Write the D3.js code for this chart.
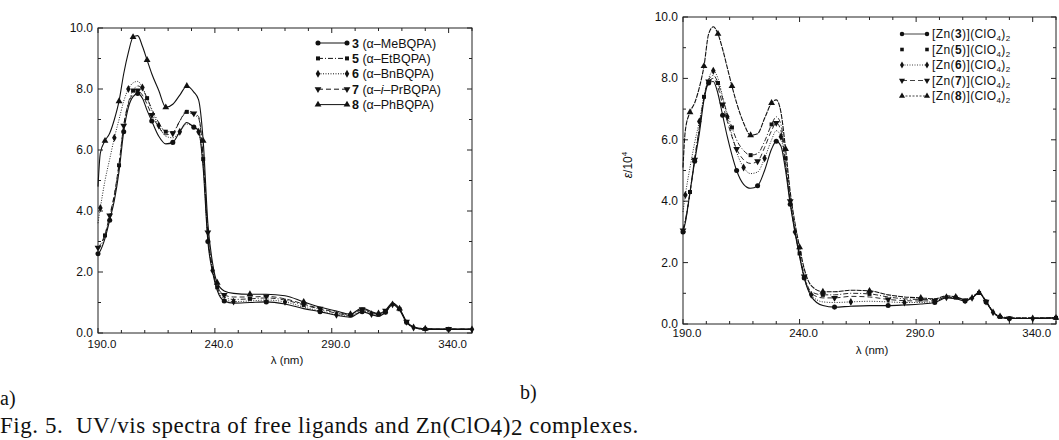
<!DOCTYPE html>
<html>
<head>
<meta charset="utf-8">
<script src="https://cdn.jsdelivr.net/npm/d3@7"></script>
<style>
  body { margin: 0; background: #fff; }
  svg { display: block; }
  text { font-family: "Liberation Sans", Arial, sans-serif; fill: #111; }
  .cap { font-family: "Liberation Serif", "Times New Roman", serif; }
</style>
</head>
<body>
<div id="graph-container"></div>
<script>
// wavelengths (nm) for panel a and b
let wlA = [190,191,193,195,197,199,201,203,205,207,209,211,213,216,219,222,225,228,231,233,235,237,239,241,244,248,255,262,270,278,285,292,298,303,307,310,313,316,319,322,325,330,340,350];
let wlB = [190,191,193,195,197,199,201,203,205,207,209,211,213,216,219,222,225,228,230,232,234,236,238,240,242,245,250,255,262,270,278,285,292,298,303,307,311,314,317,320,323,326,330,340,350];

// panel a: free ligands (epsilon / 10^4)
let a3 = [2.6,2.7,3.1,3.7,4.35,5.3,6.6,7.4,7.75,7.85,7.7,7.3,6.95,6.45,6.2,6.25,6.6,6.9,6.75,6.65,5.4,3.0,2.0,1.4,1.05,0.98,1.0,1.02,0.95,0.8,0.7,0.58,0.52,0.7,0.6,0.55,0.68,0.93,0.75,0.35,0.18,0.12,0.12,0.12];
let a5 = [2.75,2.85,3.2,3.8,4.5,5.5,6.8,7.55,7.95,8.1,8.0,7.7,7.35,6.9,6.6,6.6,6.95,7.25,7.15,7.05,5.7,3.2,2.1,1.5,1.18,1.1,1.12,1.15,1.08,0.92,0.78,0.65,0.58,0.76,0.66,0.6,0.72,0.96,0.78,0.36,0.19,0.13,0.12,0.12];
let a6 = [3.6,4.1,5.0,5.7,6.4,7.0,7.6,8.0,8.2,8.25,8.05,7.7,7.3,6.8,6.45,6.4,6.6,6.85,6.75,6.6,5.5,3.1,2.05,1.45,1.12,1.03,1.05,1.08,1.02,0.85,0.72,0.6,0.55,0.72,0.62,0.57,0.7,0.94,0.76,0.35,0.18,0.12,0.12,0.12];
let a7 = [2.8,2.9,3.25,3.85,4.55,5.55,6.8,7.5,7.85,7.95,7.8,7.5,7.15,6.75,6.5,6.55,6.95,7.3,7.2,7.1,5.8,3.3,2.15,1.55,1.25,1.18,1.18,1.2,1.12,0.95,0.8,0.68,0.6,0.78,0.68,0.62,0.73,0.97,0.79,0.37,0.2,0.14,0.13,0.13];
let a8 = [4.8,5.9,6.3,6.55,7.0,7.6,8.5,9.2,9.7,9.75,9.4,8.95,8.5,7.95,7.4,7.5,7.8,8.1,7.9,7.65,6.3,3.6,2.3,1.65,1.38,1.3,1.27,1.27,1.22,1.02,0.85,0.72,0.62,0.82,0.7,0.64,0.75,0.98,0.8,0.38,0.2,0.14,0.13,0.13];

// panel b: Zn(ClO4)2 complexes
let b3 = [3.0,3.3,4.3,5.3,6.2,7.3,7.85,7.9,7.5,6.8,6.1,5.5,5.0,4.55,4.42,4.5,5.0,5.7,5.95,5.8,5.0,3.9,3.0,2.2,1.5,0.9,0.6,0.55,0.58,0.6,0.6,0.62,0.65,0.7,0.85,0.82,0.75,0.85,1.0,0.72,0.38,0.22,0.18,0.18,0.2];
let b5 = [3.1,3.4,4.3,5.4,6.4,7.4,7.95,8.1,7.85,7.35,6.85,6.4,6.0,5.65,5.5,5.55,5.95,6.5,6.75,6.5,5.4,4.1,3.1,2.3,1.6,1.05,0.95,0.95,1.0,0.98,0.88,0.82,0.8,0.8,0.9,0.86,0.78,0.86,1.01,0.74,0.39,0.23,0.19,0.19,0.2];
let b6 = [3.65,4.2,5.1,5.9,6.6,7.4,8.0,8.25,8.0,7.4,6.75,6.15,5.6,5.1,4.9,4.95,5.4,6.0,6.3,6.1,5.1,3.95,3.0,2.2,1.5,0.95,0.72,0.7,0.72,0.74,0.72,0.7,0.7,0.74,0.87,0.83,0.76,0.85,1.0,0.72,0.38,0.22,0.18,0.18,0.2];
let b7 = [3.05,3.35,4.25,5.35,6.35,7.35,7.9,8.0,7.7,7.15,6.6,6.1,5.7,5.35,5.23,5.3,5.75,6.3,6.55,6.3,5.2,4.0,3.05,2.25,1.55,1.0,0.85,0.85,0.9,0.88,0.8,0.76,0.75,0.76,0.88,0.84,0.77,0.85,1.0,0.73,0.38,0.22,0.18,0.18,0.2];
let b8 = [5.1,6.3,6.9,7.2,7.7,8.4,9.45,9.68,9.45,8.95,8.35,7.75,7.2,6.55,6.15,6.2,6.7,7.2,7.3,6.9,5.7,4.3,3.3,2.5,1.8,1.25,1.05,1.05,1.1,1.08,0.95,0.88,0.85,0.82,0.92,0.88,0.8,0.88,1.02,0.75,0.4,0.25,0.2,0.2,0.2];

let xTicks = [190, 240, 290, 340];
let yTicks = [0, 2, 4, 6, 8, 10];

let ligands = ["3", "5", "6", "7", "8"];
let ligNames = ["α–MeBQPA", "α–EtBQPA", "α–BnBQPA", "α–i-PrBQPA", "α–PhBQPA"];

let svg = d3.select("#graph-container")
  .append("svg")
  .attr("width", 1059)
  .attr("height", 440);

let symbols = [d3.symbolCircle, d3.symbolSquare, d3.symbolDiamond, d3.symbolTriangle, d3.symbolTriangle];
let rotations = [0, 0, 0, 180, 0];
let sizes = [20, 16, 18, 20, 20];

let panels = [
  {wl: wlA, series: [a3, a5, a6, a7, a8], x0: 98, x1: 472, y0: 333, y1: 28,
   dashes: [null, "5,2,1,2", "1,1.5", "5,3", null], labelY: 348, titleX: 287, titleY: 364},
  {wl: wlB, series: [b3, b5, b6, b7, b8], x0: 683, x1: 1056, y0: 324, y1: 17,
   dashes: [null, "5,2,1,2", "1,1.5", "5,3", "5,1"], labelY: 337, titleX: 872, titleY: 354}
];

panels.forEach(function(p, pi) {
  let x = d3.scaleLinear().domain([190, 350]).range([p.x0, p.x1]);
  let y = d3.scaleLinear().domain([0, 10]).range([p.y0, p.y1]);
  let g = svg.append("g");

  // frame
  g.append("rect")
    .attr("x", p.x0).attr("y", p.y1)
    .attr("width", p.x1 - p.x0).attr("height", p.y0 - p.y1)
    .attr("fill", "none").attr("stroke", "#222").attr("stroke-width", 1);

  // minor / major ticks (inward)
  d3.range(190, 351, 10).forEach(function(v) {
    let len = xTicks.indexOf(v) >= 0 ? 5 : 3;
    g.append("line").attr("x1", x(v)).attr("x2", x(v)).attr("y1", p.y0).attr("y2", p.y0 - len).attr("stroke", "#222");
    g.append("line").attr("x1", x(v)).attr("x2", x(v)).attr("y1", p.y1).attr("y2", p.y1 + len).attr("stroke", "#222");
  });
  d3.range(0, 10.1, 1).forEach(function(v) {
    let len = v % 2 == 0 ? 5 : 3;
    g.append("line").attr("y1", y(v)).attr("y2", y(v)).attr("x1", p.x0).attr("x2", p.x0 + len).attr("stroke", "#222");
    g.append("line").attr("y1", y(v)).attr("y2", y(v)).attr("x1", p.x1).attr("x2", p.x1 - len).attr("stroke", "#222");
  });

  g.selectAll(".xl").data(xTicks).enter().append("text")
    .attr("x", function(d) { return x(d) + 4; })
    .attr("y", p.labelY)
    .attr("text-anchor", "middle")
    .attr("font-size", 11.5)
    .text(function(d) { return d3.format(".1f")(d); });

  g.selectAll(".yl").data(yTicks).enter().append("text")
    .attr("x", p.x0 - 5)
    .attr("y", function(d) { return y(d) + 4; })
    .attr("text-anchor", "end")
    .attr("font-size", 12)
    .text(function(d) { return d3.format(".1f")(d); });

  g.append("text").attr("x", p.titleX).attr("y", p.titleY)
    .attr("text-anchor", "middle").attr("font-size", 11.5).text("λ (nm)");

  let line = d3.line()
    .x(function(d) { return x(d[0]); })
    .y(function(d) { return y(d[1]); })
    .curve(d3.curveMonotoneX);

  p.series.forEach(function(s, si) {
    let pts = p.wl.map(function(w, i) { return [w, s[i]]; });
    g.append("path")
      .datum(pts)
      .attr("d", line)
      .attr("fill", "none")
      .attr("stroke", "#111")
      .attr("stroke-width", si == 0 || si == 4 ? 1.1 : 0.9)
      .attr("stroke-dasharray", p.dashes[si]);

    g.selectAll(".m" + si)
      .data(pts.filter(function(d, i) { return (i + si) % 3 == 0; }))
      .enter().append("path")
      .attr("d", d3.symbol().type(symbols[si]).size(sizes[si]))
      .attr("transform", function(d) {
        return "translate(" + x(d[0]) + "," + y(d[1]) + ") rotate(" + rotations[si] + ")";
      })
      .attr("fill", "#111");
  });
});

// y label for panel b
let yl = svg.append("text")
  .attr("transform", "translate(632,165) rotate(-90)")
  .attr("text-anchor", "middle")
  .attr("font-size", 12);
yl.append("tspan").attr("font-style", "italic").text("ε");
yl.append("tspan").text("/10");
yl.append("tspan").attr("font-size", 8).attr("dy", -5).text("4");

// legend a
let legA = svg.append("g");
ligands.forEach(function(l, i) {
  let yy = 43 + i * 15.4;
  legA.append("line").attr("x1", 318).attr("x2", 347).attr("y1", yy).attr("y2", yy)
    .attr("stroke", "#111").attr("stroke-dasharray", panels[0].dashes[i]);
  [318, 347].forEach(function(xx) {
    legA.append("path")
      .attr("d", d3.symbol().type(symbols[i]).size(sizes[i]))
      .attr("transform", "translate(" + xx + "," + yy + ") rotate(" + rotations[i] + ")")
      .attr("fill", "#111");
  });
  let t = legA.append("text").attr("x", 352).attr("y", yy + 4.5).attr("font-size", 12.5);
  t.append("tspan").attr("font-weight", "bold").text(l);
  if (l == "7") {
    t.append("tspan").text("\u00a0(α–");
    t.append("tspan").attr("font-style", "italic").text("i");
    t.append("tspan").text("–PrBQPA)");
  } else {
    t.append("tspan").text("\u00a0(" + ligNames[i] + ")");
  }
});

// legend b
let legB = svg.append("g");
ligands.forEach(function(l, i) {
  let yy = 34 + i * 15.5;
  legB.append("line").attr("x1", 902).attr("x2", 927).attr("y1", yy).attr("y2", yy)
    .attr("stroke", "#111").attr("stroke-width", 0.8)
    .attr("stroke-dasharray", i == 1 ? "0,30" : (i == 4 ? "2,1.5" : panels[1].dashes[i]));
  [902, 927].forEach(function(xx) {
    legB.append("path")
      .attr("d", d3.symbol().type(symbols[i]).size(sizes[i] * 0.8))
      .attr("transform", "translate(" + xx + "," + yy + ") rotate(" + rotations[i] + ")")
      .attr("fill", "#111");
  });
  let t = legB.append("text").attr("x", 932).attr("y", yy + 4).attr("font-size", 12).attr("letter-spacing", 0.4);
  t.append("tspan").text("[Zn(");
  t.append("tspan").attr("font-weight", "bold").text(l);
  t.append("tspan").text(")](ClO");
  t.append("tspan").attr("font-size", 8).attr("dy", 3).text("4");
  t.append("tspan").attr("dy", -3).text(")");
  t.append("tspan").attr("font-size", 8).attr("dy", 3).text("2");
});

// captions
svg.append("text").attr("class", "cap").attr("x", 0).attr("y", 405).attr("font-size", 20).text("a)");
svg.append("text").attr("class", "cap").attr("x", 520).attr("y", 399).attr("font-size", 20).text("b)");
let cap = svg.append("text").attr("class", "cap").attr("x", 0).attr("y", 433)
  .attr("font-size", 23).attr("letter-spacing", 0.55);
cap.append("tspan").text("Fig. 5.\u00a0 UV/vis spectra of free ligands and Zn(ClO");
cap.append("tspan").attr("dy", 2).text("4");
cap.append("tspan").attr("dy", -2).text(")");
cap.append("tspan").attr("dy", 2).text("2");
cap.append("tspan").attr("dy", -2).text(" complexes.");
</script>
</body>
</html>
